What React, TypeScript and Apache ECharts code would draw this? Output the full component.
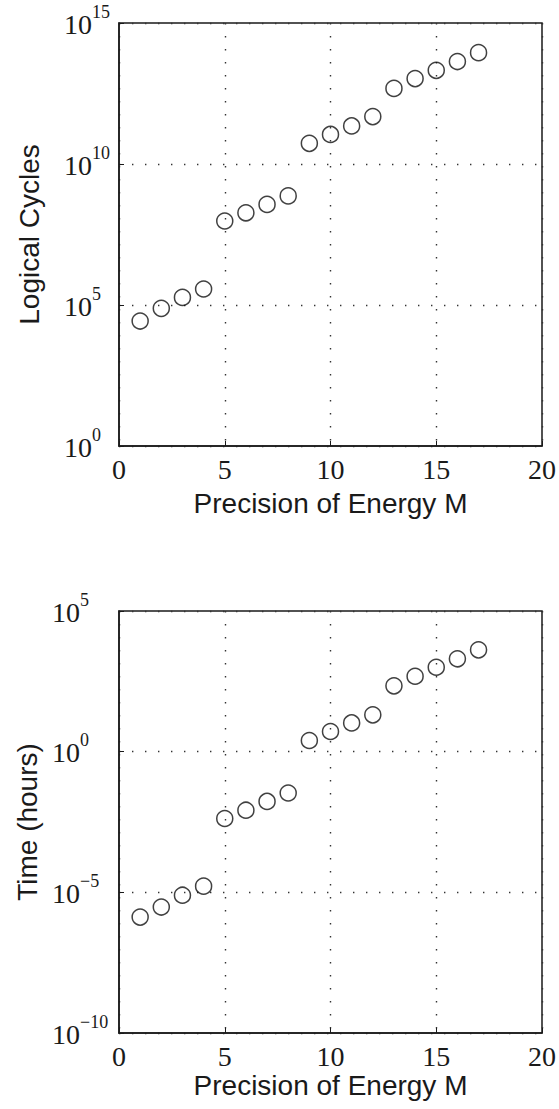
import React, { useEffect, useRef } from "react";
import * as echarts from "echarts";

const precisionM = [1, 2, 3, 4, 5, 6, 7, 8, 9, 10, 11, 12, 13, 14, 15, 16, 17];
const logicalCycles = [2.7e4, 7.6e4, 1.86e5, 3.7e5, 9.5e7, 1.86e8, 3.7e8, 7.4e8, 5.4e10, 1.12e11, 2.24e11, 4.8e11, 4.8e12, 1.07e13, 2.1e13, 4.3e13, 8.9e13];
const timeHours = [1.32e-6, 3.0e-6, 7.9e-6, 1.66e-5, 4.2e-3, 8.3e-3, 1.7e-2, 3.4e-2, 2.5, 5.2, 10.5, 20.4, 219, 479, 1000, 2000, 4170];
const xTicks = [0, 5, 10, 15, 20];
const topRange = [1, 1e15];
const bottomRange = [1e-10, 1e5];

const SERIF = "Liberation Serif";
const SANS = "Liberation Sans";
const INK = "#1a1a1a";

function powLabel(v: number) {
  const e = Math.round(Math.log10(v));
  const s = e < 0 ? "\u2212" + Math.abs(e) : String(e);
  return "{b|10}{s|" + s + "}";
}

export default function App() {
  const ref = useRef<HTMLDivElement>(null);
  useEffect(() => {
    if (!ref.current) return;
    const chart = echarts.init(ref.current, null, { renderer: "svg" });
    const grids = [
      { left: 119, right: 17, top: 23, height: 423 },
      { left: 119, right: 17, top: 611, height: 422 },
    ];
    const gridLine = { show: true, lineStyle: { type: [1.4, 11.6], color: "#333", width: 1.4 } };
    const mkX = (gi: number, nameGap: number) => ({
      type: "value",
      gridIndex: gi,
      min: xTicks[0],
      max: xTicks[xTicks.length - 1],
      interval: 5,
      name: "Precision of Energy M",
      nameLocation: "middle",
      nameGap,
      nameTextStyle: { fontFamily: SANS, fontSize: 28, color: INK },
      axisLine: { show: true, onZero: false, lineStyle: { color: INK, width: 1.5 } },
      axisTick: { show: true, inside: true, length: 5, lineStyle: { color: INK } },
      axisLabel: {
        margin: 9,
        formatter: (v: number) => "{a|" + v + "}",
        rich: { a: { fontFamily: SERIF, fontSize: 28, lineHeight: 28, color: INK } },
      },
      splitLine: gridLine,
    });
    const mkY = (gi: number, range: number[], name: string, margin: number) => ({
      type: "log",
      logBase: 10,
      gridIndex: gi,
      min: range[0],
      max: range[1],
      interval: 5,
      name,
      nameLocation: "middle",
      nameGap: 76,
      nameTextStyle: { fontFamily: SANS, fontSize: 28, color: INK },
      axisLine: { show: true, lineStyle: { color: INK, width: 1.5 } },
      axisTick: { show: true, inside: true, length: 5, lineStyle: { color: INK } },
      minorTick: { show: false },
      axisLabel: {
        margin,
        align: "left",
        padding: [2, 0, 0, 0],
        formatter: powLabel,
        fontFamily: SERIF,
        rich: {
          b: { fontFamily: SERIF, fontSize: 28, color: INK, lineHeight: 28, verticalAlign: "middle" },
          s: { fontFamily: SERIF, fontSize: 18, color: INK, lineHeight: 18, verticalAlign: "middle", padding: [0, 0, 25, 0] },
        },
      },
      splitLine: gridLine,
    });
    const seriesStyle = {
      type: "scatter",
      symbol: "circle",
      symbolSize: 16,
      itemStyle: { color: "rgba(255,255,255,0)", borderColor: "#111", borderWidth: 1.5 },
    };
    chart.setOption({
      animation: false,
      backgroundColor: "#fff",
      textStyle: { fontFamily: SERIF },
      grid: grids.map((g) => ({ ...g, show: true, borderColor: INK, borderWidth: 1.5, backgroundColor: "transparent" })),
      xAxis: [mkX(0, 43), mkX(1, 38)],
      yAxis: [mkY(0, topRange, "Logical Cycles", 55), mkY(1, bottomRange, "Time (hours)", 67)],
      series: [
        { ...seriesStyle, xAxisIndex: 0, yAxisIndex: 0, data: precisionM.map((m, i) => [m, logicalCycles[i]]) },
        { ...seriesStyle, xAxisIndex: 1, yAxisIndex: 1, data: precisionM.map((m, i) => [m, timeHours[i]]) },
      ],
    });
    return () => chart.dispose();
  }, []);
  return <div ref={ref} style={{ position: "absolute", left: 0, top: 0, width: 559, height: 1109 }} />;
}
